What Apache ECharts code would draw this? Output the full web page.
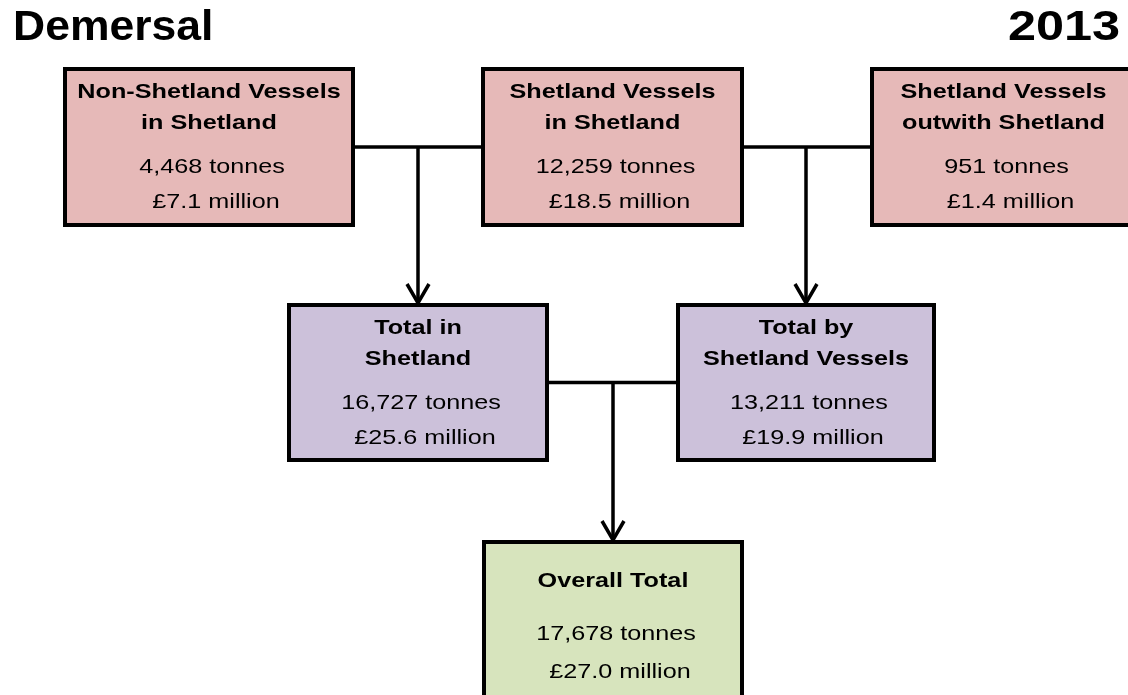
<!DOCTYPE html>
<html>
<head>
<meta charset="utf-8">
<title>Demersal 2013</title>
<script src="https://cdn.jsdelivr.net/npm/echarts@6/dist/echarts.min.js"></script>
<style>
  html, body { margin: 0; padding: 0; background: #fff; }
  #chart { width: 1128px; height: 695px; }
</style>
</head>
<body>
<div id="chart"></div>
<script>
// data for each box, in order: 3 sources, 2 subtotals, overall total
const boxTitles = [
  ['Non-Shetland Vessels', 'in Shetland'],
  ['Shetland Vessels', 'in Shetland'],
  ['Shetland Vessels', 'outwith Shetland'],
  ['Total in', 'Shetland'],
  ['Total by', 'Shetland Vessels'],
  ['Overall Total'],
];
const boxTonnes = [4468, 12259, 951, 16727, 13211, 17678];
const boxMillions = [7.1, 18.5, 1.4, 25.6, 19.9, 27.0];
// two boxes feed into one box below
const merges = [
  { from: [0, 1], to: 3 },
  { from: [1, 2], to: 4 },
  { from: [3, 4], to: 5 },
];
const headingLeft = 'Demersal';
const headingRight = '2013';

// layout, in axis units (x0, y0, x1, y1)
const boxRects = [
  [65, 69, 353, 225],
  [483, 69, 742, 225],
  [872, 69, 1135, 225],
  [289, 305, 547, 460],
  [678, 305, 934, 460],
  [484, 542, 742, 710],
];
const boxFills = ['#e6b9b8', '#e6b9b8', '#e6b9b8', '#ccc1da', '#ccc1da', '#d7e4bd'];
const FONT = '"Liberation Sans", Arial, sans-serif';
const TEXT_SCALE = 1.2;

function textEl(x, y, text, bold, dx) {
  return {
    type: 'text',
    x: x + (dx || 0),
    y,
    scaleX: TEXT_SCALE,
    style: {
      x: 0,
      y: 0,
      text,
      font: `${bold ? 'bold ' : ''}21px ${FONT}`,
      fill: '#000',
      align: 'center',
      verticalAlign: 'middle',
    },
  };
}

function renderBox(params, api) {
  const i = params.dataIndex;
  const r = boxRects[i];
  const p0 = api.coord([r[0], r[1]]);
  const p1 = api.coord([r[2], r[3]]);
  const cx = (p0[0] + p1[0]) / 2;
  const top = p0[1];
  const titles = boxTitles[i];
  const children = [{
    type: 'rect',
    shape: { x: p0[0], y: p0[1], width: p1[0] - p0[0], height: p1[1] - p0[1] },
    style: { fill: boxFills[i], stroke: '#000', lineWidth: 4 },
  }];
  let tonnesY = top + 98;
  let moneyY = top + 133;
  if (titles.length === 1) {
    children.push(textEl(cx, top + 39, titles[0], true));
    tonnesY = top + 92;
    moneyY = top + 130;
  } else {
    children.push(textEl(cx, top + 23, titles[0], true));
    children.push(textEl(cx, top + 54, titles[1], true));
  }
  children.push(textEl(cx, tonnesY, `${boxTonnes[i].toLocaleString('en-GB')} tonnes`, false, 3));
  children.push(textEl(cx, moneyY, `£${boxMillions[i].toFixed(1)} million`, false, 7));
  return { type: 'group', children };
}

function renderMerge(params, api) {
  const m = merges[params.dataIndex];
  const left = boxRects[m.from[0]];
  const right = boxRects[m.from[1]];
  const target = boxRects[m.to];
  const y = (left[1] + left[3]) / 2;
  const tx = (target[0] + target[2]) / 2;
  const tipY = target[1] - 2;
  const lineStyle = { stroke: '#000', lineWidth: 3.5, fill: null };
  const a = api.coord([left[2], y]);
  const b = api.coord([right[0], y]);
  const c = api.coord([tx, y]);
  const d = api.coord([tx, tipY]);
  return {
    type: 'group',
    children: [
      { type: 'line', shape: { x1: a[0], y1: a[1], x2: b[0], y2: b[1] }, style: lineStyle },
      { type: 'line', shape: { x1: c[0], y1: c[1], x2: d[0], y2: d[1] }, style: lineStyle },
      {
        type: 'polyline',
        shape: { points: [api.coord([tx - 11, tipY - 19]), d, api.coord([tx + 11, tipY - 19])] },
        style: lineStyle,
      },
    ],
  };
}

const chart = echarts.init(document.getElementById('chart'));
chart.setOption({
  animation: false,
  backgroundColor: '#fff',
  grid: { left: 0, right: 0, top: 0, bottom: 0 },
  xAxis: { type: 'value', min: 0, max: 1128, show: false },
  yAxis: { type: 'value', min: 0, max: 695, inverse: true, show: false },
  graphic: [
    {
      type: 'text',
      x: 13,
      y: 28,
      scaleX: 1.06,
      style: { text: headingLeft, font: `bold 42px ${FONT}`, fill: '#000', align: 'left', verticalAlign: 'middle' },
    },
    {
      type: 'text',
      x: 1120,
      y: 28,
      scaleX: 1.2,
      style: { text: headingRight, font: `bold 42px ${FONT}`, fill: '#000', align: 'right', verticalAlign: 'middle' },
    },
  ],
  series: [
    {
      type: 'custom',
      name: 'links',
      clip: false,
      silent: true,
      z: 1,
      data: merges.map((m, i) => [i]),
      renderItem: renderMerge,
    },
    {
      type: 'custom',
      name: 'boxes',
      clip: false,
      silent: true,
      z: 2,
      data: boxTitles.map((t, i) => [i]),
      renderItem: renderBox,
    },
  ],
});
</script>
</body>
</html>
